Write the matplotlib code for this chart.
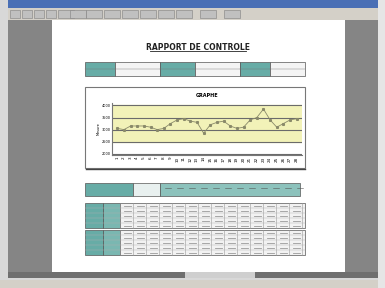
import matplotlib
matplotlib.use("Agg")
import matplotlib.pyplot as plt
from matplotlib.patches import Rectangle

# ---- data ----
title = "RAPPORT DE CONTROLE"
chart_title = "GRAPHE"
y_label = "Mesure"
samples = [str(i) for i in range(1, 29)]
values = [2.1, 2.0, 2.3, 2.3, 2.3, 2.2, 2.0, 2.1, 2.5, 2.8, 2.9, 2.7, 2.6, 1.7,
          2.4, 2.6, 2.7, 2.3, 2.1, 2.2, 2.8, 3.0, 3.7, 2.8, 2.2, 2.5, 2.8, 2.9]
y_ticks = [0, 1, 2, 3, 4]
y_tick_labels = ["2000", "2500", "3000", "3500", "4000"]
band = (1.0, 4.0)

fig = plt.figure(figsize=(3.85, 2.88), dpi=100)
bg = fig.add_axes([0, 0, 1, 1])
bg.set_xlim(0, 385)
bg.set_ylim(288, 0)
bg.axis("off")

def rect(x, y, w, h, fc, ec="none", lw=0.5, z=1):
    bg.add_patch(Rectangle((x, y), w, h, facecolor=fc, edgecolor=ec, linewidth=lw, zorder=z))

# window chrome
rect(0, 0, 385, 288, "#d8d8d8")
rect(8, 0, 370, 8, "#4a6fb5")
rect(8, 8, 370, 12, "#d4d0c8")
for x0 in [10, 22, 34, 46, 58, 70, 86, 104, 122, 140, 158, 176, 200, 224]:
    rect(x0, 10, 10 if x0 < 58 else 16, 8, "#c0c0c0", "#808080", 0.4)
rect(8, 20, 370, 255, "#858585")
rect(52, 20, 293, 255, "#ffffff")
rect(8, 272, 370, 6, "#6f6f6f")
rect(185, 272, 70, 6, "#cfcfcf")
rect(0, 280, 385, 8, "#d4d0c8")
rect(378, 0, 7, 288, "#e6e6e6")

# title
bg.text(198, 47, title, ha="center", va="center", fontsize=5.5, fontweight="bold",
        color="#222222")
bg.plot([150, 246], [51, 51], color="#222222", lw=0.6)

# header table
teal = "#67aca6"
cells = [(85, 30, teal), (115, 45, "#f4f4f4"), (160, 35, teal), (195, 45, "#f4f4f4"),
         (240, 30, teal), (270, 35, "#f4f4f4")]
for x0, w, c in cells:
    rect(x0, 62, w, 14, c, "#555555", 0.5)
    bg.plot([x0, x0 + w], [69, 69], color="#777777", lw=0.3)

# chart frame
rect(85, 87, 220, 81, "#ffffff", "#777777", 0.8)
bg.plot([86, 305], [168.5, 168.5], color="#444444", lw=1.0)

# bottom tables
rect(85, 183, 48, 13, teal, "#555555", 0.5)
rect(133, 183, 27, 13, "#e8f0ef", "#555555", 0.5)
rect(160, 183, 140, 13, "#8cc2bc", "#555555", 0.5)
for x0 in range(165, 300, 12):
    bg.plot([x0, x0 + 6], [188, 188], color="#555555", lw=0.4)
for ty in [203, 230]:
    rect(85, ty, 18, 25, teal, "#555555", 0.5)
    rect(103, ty, 17, 25, "#7ab7b1", "#555555", 0.5)
    rect(120, ty, 185, 25, "#f2f2f2", "#555555", 0.5)
    for xx in range(120, 306, 13):
        bg.plot([xx, xx], [ty, ty + 25], color="#9a9a9a", lw=0.4)
    for yy in range(ty + 5, ty + 25, 5):
        bg.plot([85, 305], [yy, yy], color="#b0b0b0", lw=0.3)
    for xx in range(124, 300, 13):
        for yy in range(ty + 2, ty + 24, 5):
            bg.plot([xx, xx + 7], [yy + 1, yy + 1], color="#9a9a9a", lw=0.6)

# ---- control chart ----
ax = fig.add_axes([112 / 385, 1 - 155 / 288, 190 / 385, 52 / 288])
x = list(range(len(samples)))
ax.axhspan(band[0], band[1], color="#f2f2b8", zorder=0)
for t in y_ticks:
    ax.axhline(t, color="#6b6b6b", lw=0.8, zorder=1)
ax.plot(x, values, color="#8a8a6a", lw=0.6, marker="s", ms=1.2, zorder=2)
ax.set_ylim(-0.1, 4.2)
ax.set_xlim(-0.8, len(samples) - 0.2)
ax.set_yticks(y_ticks)
ax.set_yticklabels(y_tick_labels, fontsize=2.5)
ax.set_xticks(x)
ax.set_xticklabels(samples, fontsize=3, rotation=90)
ax.tick_params(length=0, pad=1)
for s in ["top", "right"]:
    ax.spines[s].set_visible(False)
ax.spines["left"].set_color("#777777")
ax.spines["bottom"].set_color("#777777")
ax.set_ylabel(y_label, fontsize=2.5, labelpad=1)
ax.set_title(chart_title, fontsize=3.5, fontweight="bold", pad=4)
ax.set_facecolor("white")

fig.savefig("out.png", dpi=100)
